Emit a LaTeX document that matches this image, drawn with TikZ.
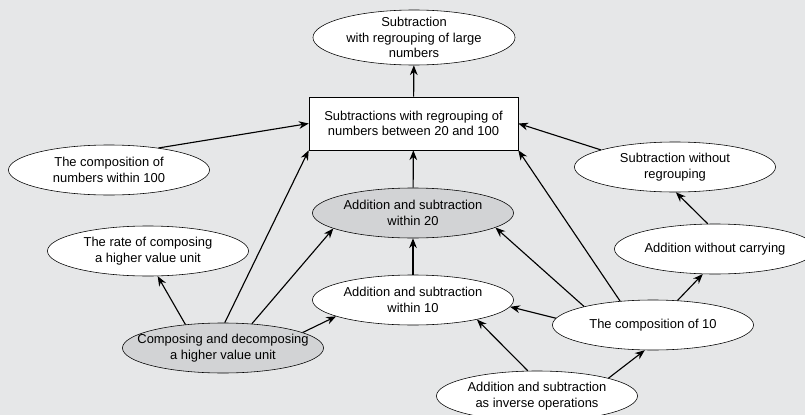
\documentclass[tikz,border=0pt]{standalone}
\usepackage{fontspec}
\setmainfont{Liberation Sans}
\usepackage{tikz}
\usetikzlibrary{shapes, arrows, arrows.meta, calc, positioning}

\definecolor{bgcol}{HTML}{E6E7E8}
\definecolor{keycol}{HTML}{D2D3D5}

\begin{document}
\begin{tikzpicture}[>={Stealth[length=7pt, width=5.5pt]}, x=0.025cm, y=-0.025cm]
	\tikzstyle{topic} = [draw, ellipse, fill=white, minimum width=5.025cm, minimum height=1.25cm,
		inner xsep=-1.2cm, inner ysep=-0.3cm, align=center, font=\fontsize{9.2}{11}\selectfont]
	\tikzstyle{keytopic} = [topic, fill=keycol]
	\tikzstyle{rectbox} = [draw, fill=white, minimum width=5.225cm, minimum height=1.325cm,
		inner sep=0pt, align=center, font=\fontsize{9.2}{11}\selectfont]

	\useasboundingbox (0,0) rectangle (805,415);
	\fill[bgcol] (0,0) rectangle (805,415);

	\begin{scope}
		\path
			node[topic, minimum width=5.05cm, minimum height=1.375cm] (large) at (414,37.5) {Subtraction\\with regrouping of large\\numbers}
			node[rectbox] (box) at (413.5,123.5) {Subtractions with regrouping of\\numbers between 20 and 100}
			node[topic] (within100) at (109,170) {The composition of\\numbers within 100}
			node[topic] (rate) at (148,251) {The rate of composing\\a higher value unit}
			node[keytopic] (compose) at (223,348) {Composing and decomposing\\a higher value unit}
			node[keytopic] (within20) at (413,213) {Addition and subtraction\\within 20}
			node[topic] (within10) at (413,300) {Addition and subtraction\\within 10}
			node[topic] (nocarry) at (715,249) {Addition without carrying}
			node[topic] (noregroup) at (675,167) {Subtraction without\\regrouping}
			node[topic] (comp10) at (653,325) {The composition of 10}
			node[topic] (inverse) at (537,396) {Addition and subtraction\\as inverse operations}
		;
	\end{scope}

	\begin{scope}
		\path[->, thick]
			(box) edge (large)
			(within100.24) edge (box.west)
			(noregroup.167) edge (box.east)
			(within20) edge (box)
			(compose.86) edge (box.south west)
			(compose.40) edge (within20.191)
			(compose.11) edge (within10.192)
			(compose.148) edge (rate.291)
			(within10) edge (within20)
			(comp10.176) edge (within10.356)
			(comp10.165) edge (within20.350)
			(comp10.144) edge (box.south east)
			(comp10.45) edge (nocarry.244)
			(nocarry.106) edge (noregroup.272)
			(inverse.110) edge (within10.343)
			(inverse.14) edge (comp10.252)
		;
	\end{scope}
\end{tikzpicture}
\end{document}
